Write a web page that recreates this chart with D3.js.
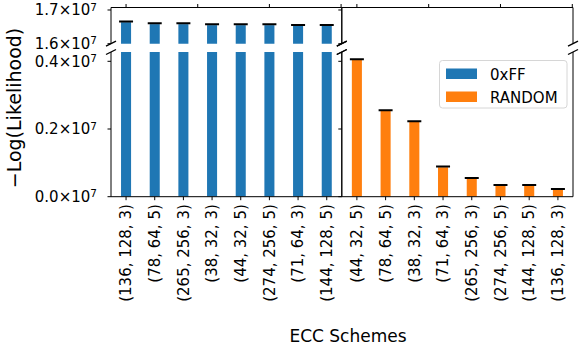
<!DOCTYPE html>
<html>
<head>
<meta charset="utf-8">
<script src="https://cdn.jsdelivr.net/npm/d3@7"></script>
<style>
  body { margin: 0; background: #fff; }
  text { font-family: 'DejaVu Sans', sans-serif; fill: #000; }
</style>
</head>
<body>
<div id="chart"></div>
<script>
// data
let schemesFF = ['(136, 128, 3)', '(78, 64, 5)', '(265, 256, 3)', '(38, 32, 3)', '(44, 32, 5)', '(274, 256, 5)', '(71, 64, 3)', '(144, 128, 5)']
let valuesFF = [1.6638e7, 1.658e7, 1.658e7, 1.655e7, 1.655e7, 1.655e7, 1.653e7, 1.653e7]
let schemesRandom = ['(44, 32, 5)', '(78, 64, 5)', '(38, 32, 3)', '(71, 64, 3)', '(265, 256, 3)', '(274, 256, 5)', '(144, 128, 5)', '(136, 128, 3)']
let valuesRandom = [0.4038e7, 0.2532e7, 0.2207e7, 0.0869e7, 0.0532e7, 0.0325e7, 0.0325e7, 0.0207e7]
let seriesNames = ['0xFF', 'RANDOM']
let seriesColors = ['#1f77b4', '#ff7f0e']
let topTicks = [1.6e7, 1.7e7]
let bottomTicks = [0, 0.2e7, 0.4e7]
let topXTicks = [0, 2.5, 5, 7.5]

var width = 581
var height = 345
var fontSize = 15
var tickLen = 3.5

var panelsX = [[111, 341.8], [341.8, 573]]
var topY = [7.5, 43.7]
var botY = [52, 196.7]

var yTop = d3.scaleLinear().domain([1.6e7, 1.7074e7]).range([topY[1], topY[0]])
var yBot = d3.scaleLinear().domain([0, 0.4275e7]).range([botY[1], botY[0]])

var svg = d3.select('#chart')
  .append('svg')
  .attr('width', width)
  .attr('height', height)

var defs = svg.append('defs')

var panels = [
  {names: schemesFF, values: valuesFF, color: seriesColors[0]},
  {names: schemesRandom, values: valuesRandom, color: seriesColors[1]}
]

function fmt (v) {
  return (v / 1e7).toFixed(1)
}

panels.forEach(function (p, pi) {
  var x = d3.scaleLinear()
    .domain([-0.525, 7.525])
    .range(panelsX[pi])
  var barW = x(0.35) - x(0)

  // clip paths for each half of the broken axis
  var clipIds = ['clipTop' + pi, 'clipBot' + pi]
  defs.append('clipPath').attr('id', clipIds[0]).append('rect')
    .attr('x', panelsX[pi][0]).attr('y', topY[0])
    .attr('width', panelsX[pi][1] - panelsX[pi][0]).attr('height', topY[1] - topY[0])
  defs.append('clipPath').attr('id', clipIds[1]).append('rect')
    .attr('x', panelsX[pi][0]).attr('y', botY[0])
    .attr('width', panelsX[pi][1] - panelsX[pi][0]).attr('height', botY[1] - botY[0])

  var halves = [{y: yTop, clip: clipIds[0]}, {y: yBot, clip: clipIds[1]}]
  halves.forEach(function (h) {
    var g = svg.append('g').attr('clip-path', 'url(#' + h.clip + ')')
    g.selectAll('rect')
      .data(p.values)
      .enter()
      .append('rect')
      .attr('x', function (d, i) { return x(i) - barW / 2 })
      .attr('width', barW)
      .attr('y', function (d) { return Math.max(h.y(d), -10) })
      .attr('height', function (d) {
        var top = Math.max(h.y(d), -10)
        return Math.max(0, Math.min(h.y(0), 1000) - top)
      })
      .attr('fill', p.color)
    // error bar caps
    g.selectAll('line.cap')
      .data(p.values)
      .enter()
      .append('line')
      .attr('class', 'cap')
      .attr('x1', function (d, i) { return x(i) - 7 })
      .attr('x2', function (d, i) { return x(i) + 7 })
      .attr('y1', function (d) { return h.y(d) - 0.8 })
      .attr('y2', function (d) { return h.y(d) - 0.8 })
      .attr('stroke', '#000')
      .attr('stroke-width', 2)
  })

  // spines
  var spine = svg.append('g').attr('stroke', '#000').attr('stroke-width', 1).attr('fill', 'none')
  spine.append('path')
    .attr('d', 'M' + panelsX[pi][0] + ',' + topY[1] + 'V' + topY[0] + 'H' + panelsX[pi][1] + 'V' + topY[1])
  spine.append('path')
    .attr('d', 'M' + panelsX[pi][0] + ',' + botY[0] + 'V' + botY[1] + 'H' + panelsX[pi][1] + 'V' + botY[0])

  // top x ticks (no labels)
  spine.selectAll('line.tt')
    .data(topXTicks)
    .enter()
    .append('line')
    .attr('x1', function (d) { return x(d) })
    .attr('x2', function (d) { return x(d) })
    .attr('y1', topY[0])
    .attr('y2', topY[0] - tickLen)

  // bottom x ticks and rotated labels
  spine.selectAll('line.bt')
    .data(p.names)
    .enter()
    .append('line')
    .attr('x1', function (d, i) { return x(i) })
    .attr('x2', function (d, i) { return x(i) })
    .attr('y1', botY[1])
    .attr('y2', botY[1] + tickLen)

  svg.append('g').selectAll('text')
    .data(p.names)
    .enter()
    .append('text')
    .attr('transform', function (d, i) {
      return 'translate(' + x(i) + ',' + (botY[1] + tickLen + 4) + ') rotate(-90)'
    })
    .attr('text-anchor', 'end')
    .attr('dy', '0.35em')
    .style('font-size', fontSize + 'px')
    .text(function (d) { return d })

  // y ticks on left spine of each panel
  spine.selectAll('line.yt')
    .data(topTicks.map(function (v) { return yTop(v) }).concat(bottomTicks.map(function (v) { return yBot(v) })))
    .enter()
    .append('line')
    .attr('x1', panelsX[pi][0])
    .attr('x2', panelsX[pi][0] - tickLen)
    .attr('y1', function (d) { return d })
    .attr('y2', function (d) { return d })

  // break marks
  var marks = svg.append('g').attr('stroke', '#000').attr('stroke-width', 1.3)
  ;[panelsX[pi][0], panelsX[pi][1]].forEach(function (mx) {
    [topY[1], botY[0]].forEach(function (my) {
      marks.append('line')
        .attr('x1', mx - 5).attr('y1', my + 2.5)
        .attr('x2', mx + 5).attr('y2', my - 2.5)
    })
  })
})

// y tick labels, left panel only
var yLabels = topTicks.map(function (v) { return {v: v, y: yTop(v)} })
  .concat(bottomTicks.map(function (v) { return {v: v, y: yBot(v)} }))
var yl = svg.append('g').selectAll('text')
  .data(yLabels)
  .enter()
  .append('text')
  .attr('x', 97)
  .attr('y', function (d) { return d.y })
  .attr('dy', '0.35em')
  .attr('text-anchor', 'end')
  .style('font-size', fontSize + 'px')
yl.append('tspan').text(function (d) { return fmt(d.v) + '\u00d710' })
yl.append('tspan')
  .attr('dy', '-0.45em')
  .style('font-size', (fontSize * 0.7) + 'px')
  .text('7')

// axis titles
svg.append('text')
  .attr('transform', 'translate(14,108) rotate(-90)')
  .attr('text-anchor', 'middle')
  .attr('dy', '0.35em')
  .style('font-size', '19px')
  .text('\u2212Log(Likelihood)')

svg.append('text')
  .attr('x', 348)
  .attr('y', 342)
  .attr('text-anchor', 'middle')
  .style('font-size', '17px')
  .text('ECC Schemes')

// legend
var legend = svg.append('g')
legend.append('rect')
  .attr('x', 439.5).attr('y', 60.5)
  .attr('width', 127.5).attr('height', 47.5)
  .attr('rx', 3)
  .attr('fill', 'rgba(255,255,255,0.8)')
  .attr('stroke', '#d6d6d6')
legend.selectAll('rect.sw')
  .data(seriesNames)
  .enter()
  .append('rect')
  .attr('x', 446)
  .attr('y', function (d, i) { return 68.5 + i * 23 })
  .attr('width', 31)
  .attr('height', 10.5)
  .attr('fill', function (d, i) { return seriesColors[i] })
legend.selectAll('text')
  .data(seriesNames)
  .enter()
  .append('text')
  .attr('x', 490)
  .attr('y', function (d, i) { return 79.5 + i * 23 })
  .style('font-size', fontSize + 'px')
  .text(function (d) { return d })
</script>
</body>
</html>
